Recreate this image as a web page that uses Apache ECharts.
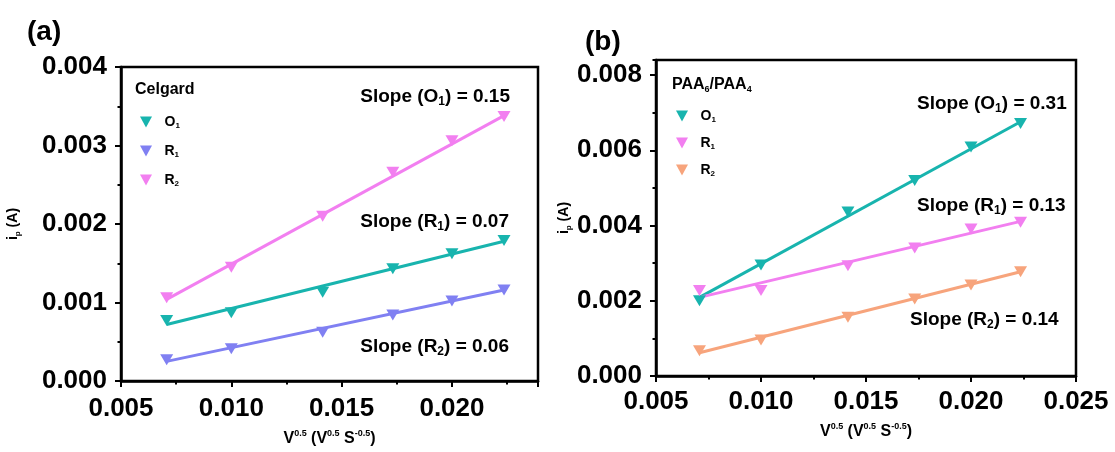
<!DOCTYPE html>
<html><head><meta charset="utf-8">
<script src="https://cdn.jsdelivr.net/npm/echarts@6/dist/echarts.min.js"></script>
<style>html,body{margin:0;padding:0;background:#fff}#c{width:1115px;height:452px}</style>
</head><body><div id="c"></div>
<script>
// ---- data ----
const xVals = [0.00707, 0.0100, 0.01414, 0.01732, 0.0200, 0.02236];
const xFit = [0.00707, 0.02236];
// panel (a) Celgard
const a_O1 = [0.00077, 0.00087, 0.00113, 0.00143, 0.00162, 0.00179];
const a_R1 = [0.00027, 0.00041, 0.00062, 0.00084, 0.00102, 0.00116];
const a_R2 = [0.00106, 0.00145, 0.00210, 0.00266, 0.00306, 0.00337];
const a_fitO1 = [0.00072, 0.00178];
const a_fitR1 = [0.00025, 0.00116];
const a_fitR2 = [0.00104, 0.00338];
// panel (b) PAA6/PAA4
const b_O1 = [0.00200, 0.00295, 0.00436, 0.00520, 0.00609, 0.00671];
const b_R1 = [0.00227, 0.00227, 0.00293, 0.00340, 0.00391, 0.00409];
const b_R2 = [0.00067, 0.00096, 0.00156, 0.00205, 0.00242, 0.00277];
const b_fitO1 = [0.00209, 0.00676];
const b_fitR1 = [0.00209, 0.00411];
const b_fitR2 = [0.00062, 0.00277];
// tick labels
const xTickLabelsA = ['0.005', '0.010', '0.015', '0.020'];
const yTickLabelsA = ['0.000', '0.001', '0.002', '0.003', '0.004'];
const xTickLabelsB = ['0.005', '0.010', '0.015', '0.020', '0.025'];
const yTickLabelsB = ['0.000', '0.002', '0.004', '0.006', '0.008'];
const slopeA = [['O', '1', '0.15'], ['R', '1', '0.07'], ['R', '2', '0.06']];
const slopeB = [['O', '1', '0.31'], ['R', '1', '0.13'], ['R', '2', '0.14']];

// ---- styles ----
const FF = '"Liberation Sans", Arial, sans-serif';
const TRI = 'path://M0,0 L12,0 L6,11 Z';
const C = { teal: '#18b4ae', blue: '#8080f2', pink: '#f27ff0', orange: '#f7a47c' };

function labelFmt(list) {
  return v => { const s = v.toFixed(3); return list.indexOf(s) >= 0 ? s : ''; };
}
function mainAxis(o) {
  return Object.assign({
    type: 'value', splitLine: { show: false },
    axisLine: { show: true, onZero: false, lineStyle: { color: '#000', width: 2.5 } },
    axisTick: { show: true, inside: false, length: 6, lineStyle: { color: '#000', width: 2 } },
    nameTextStyle: {
      rich: {
        m: { fontSize: 16, fontWeight: 'bold', fontFamily: FF, color: '#000', lineHeight: 20 },
        u: { fontSize: 9, fontWeight: 'bold', fontFamily: FF, color: '#000', verticalAlign: 'top', lineHeight: 9 },
        s: { fontSize: 8, fontWeight: 'bold', fontFamily: FF, color: '#000', verticalAlign: 'bottom', lineHeight: 8 },
        y: { fontSize: 14, fontWeight: 'bold', fontFamily: FF, color: '#000', lineHeight: 18 }
      }
    }
  }, o);
}
function minorAxis(o) {
  return Object.assign({
    type: 'value', splitLine: { show: false },
    axisLine: { show: false, onZero: false },
    axisLabel: { show: false },
    axisTick: { show: true, inside: false, length: 3.5, lineStyle: { color: '#000', width: 2 } }
  }, o);
}
function tickLabel(margin, list) {
  return { color: '#000', fontSize: 26, fontWeight: 'bold', fontFamily: FF, margin, formatter: labelFmt(list) };
}
const xName = '{m|V}{u|0.5}{m| (V}{u|0.5}{m| S}{u|-0.5}{m|)}';
const yName = '{y|i}{s|p}{y| (A)}';

function scatter(name, ys, color, idx) {
  return { type: 'scatter', name, xAxisIndex: idx * 2, yAxisIndex: idx * 2, z: 3,
    data: xVals.map((x, i) => [x, ys[i]]), symbol: TRI, symbolSize: [13, 11],
    itemStyle: { color, opacity: 1 } };
}
function fit(ys, color, idx) {
  return { type: 'line', xAxisIndex: idx * 2, yAxisIndex: idx * 2, z: 2, silent: true,
    data: xFit.map((x, i) => [x, ys[i]]), symbol: 'none', showSymbol: false,
    lineStyle: { color, width: 3 } };
}

const legendNames = { aO1: '{b|O}{s|1}', aR1: '{b|R}{s|1}', aR2: '{b|R}{s|2}',
                      bO1: '{b|O}{s|1}', bR1: '{b|R}{s|1}', bR2: '{b|R}{s|2}' };
function legend(data, left, top, gap) {
  return { data, orient: 'vertical', left, top, itemWidth: 13, itemHeight: 11, itemGap: gap,
    icon: TRI, selectedMode: false, formatter: n => legendNames[n],
    textStyle: { padding: [0, 0, 0, 7], rich: {
      b: { fontSize: 14, fontWeight: 'bold', fontFamily: FF, color: '#000', lineHeight: 16 },
      s: { fontSize: 8, fontWeight: 'bold', fontFamily: FF, color: '#000', verticalAlign: 'bottom', lineHeight: 8 } } } };
}

function slopeText(item, x, y, align) {
  const t = '{m|Slope (' + item[0] + '}{s|' + item[1] + '}{m|) = ' + item[2] + '}';
  return { type: 'text', x, y, z: 10, style: {
    text: t, align, textAlign: align, verticalAlign: 'middle', textVerticalAlign: 'middle',
    rich: {
      m: { fontSize: 19, fontWeight: 'bold', fontFamily: FF, fill: '#000', color: '#000', lineHeight: 22 },
      s: { fontSize: 12, fontWeight: 'bold', fontFamily: FF, fill: '#000', color: '#000', verticalAlign: 'bottom', lineHeight: 12 } } } };
}
function plainText(t, x, y, size, align) {
  return { type: 'text', x, y, z: 10, style: { text: t, fill: '#000', align: align || 'left', textAlign: align || 'left',
    verticalAlign: 'middle', textVerticalAlign: 'middle', font: 'bold ' + size + 'px ' + FF } };
}

const option = {
  backgroundColor: '#fff',
  animation: false,
  grid: [
    { left: 121, right: 577, top: 67, bottom: 65, show: true, borderColor: '#000', borderWidth: 2.5, backgroundColor: 'transparent' },
    { left: 656, right: 39, top: 60, bottom: 76, show: true, borderColor: '#000', borderWidth: 2.5, backgroundColor: 'transparent' }
  ],
  xAxis: [
    mainAxis({ gridIndex: 0, position: 'bottom', min: 0.005, max: 0.0239, interval: 0.005,
      axisLabel: tickLabel(15, xTickLabelsA), name: xName, nameLocation: 'middle', nameGap: 48 }),
    minorAxis({ gridIndex: 0, position: 'bottom', min: 0.005, max: 0.0239, interval: 0.0025 }),
    mainAxis({ gridIndex: 1, position: 'bottom', min: 0.005, max: 0.025, interval: 0.005,
      axisLabel: tickLabel(13, xTickLabelsB), name: xName, nameLocation: 'middle', nameGap: 46 }),
    minorAxis({ gridIndex: 1, position: 'bottom', min: 0.005, max: 0.025, interval: 0.0025 })
  ],
  yAxis: [
    mainAxis({ gridIndex: 0, position: 'left', min: 0, max: 0.004, interval: 0.001,
      axisLabel: tickLabel(14, yTickLabelsA), name: yName, nameLocation: 'middle', nameGap: 99, nameRotate: 90 }),
    minorAxis({ gridIndex: 0, position: 'left', min: 0, max: 0.004, interval: 0.0005 }),
    mainAxis({ gridIndex: 1, position: 'left', min: 0, max: 0.0084, interval: 0.002,
      axisLabel: tickLabel(14, yTickLabelsB), name: yName, nameLocation: 'middle', nameGap: 76, nameRotate: 90 }),
    minorAxis({ gridIndex: 1, position: 'left', min: 0, max: 0.0084, interval: 0.001 })
  ],
  legend: [ legend(['aO1', 'aR1', 'aR2'], 135, 110, 14), legend(['bO1', 'bR1', 'bR2'], 671, 104, 12) ],
  series: [
    fit(a_fitO1, C.teal, 0), fit(a_fitR1, C.blue, 0), fit(a_fitR2, C.pink, 0),
    scatter('aO1', a_O1, C.teal, 0), scatter('aR1', a_R1, C.blue, 0), scatter('aR2', a_R2, C.pink, 0),
    fit(b_fitO1, C.teal, 1), fit(b_fitR1, C.pink, 1), fit(b_fitR2, C.orange, 1),
    scatter('bO1', b_O1, C.teal, 1), scatter('bR1', b_R1, C.pink, 1), scatter('bR2', b_R2, C.orange, 1)
  ],
  graphic: [
    plainText('(a)', 27, 32, 28),
    plainText('(b)', 585, 42, 28),
    plainText('Celgard', 135, 90, 16),
    { type: 'text', x: 672, y: 85, z: 10, style: { text: '{m|PAA}{s|6}{m|/PAA}{s|4}', verticalAlign: 'middle', textVerticalAlign: 'middle',
      rich: { m: { fontSize: 16, fontWeight: 'bold', fontFamily: FF, fill: '#000', lineHeight: 18 },
              s: { fontSize: 9, fontWeight: 'bold', fontFamily: FF, fill: '#000', verticalAlign: 'bottom', lineHeight: 9 } } } },
    slopeText(slopeA[0], 510, 97, 'right'),
    slopeText(slopeA[1], 509, 222, 'right'),
    slopeText(slopeA[2], 509, 347, 'right'),
    slopeText(slopeB[0], 917, 104, 'left'),
    slopeText(slopeB[1], 917, 206, 'left'),
    slopeText(slopeB[2], 910, 320, 'left')
  ]
};
const chart = echarts.init(document.getElementById('c'), null, { renderer: 'canvas' });
chart.setOption(option);
</script></body></html>
